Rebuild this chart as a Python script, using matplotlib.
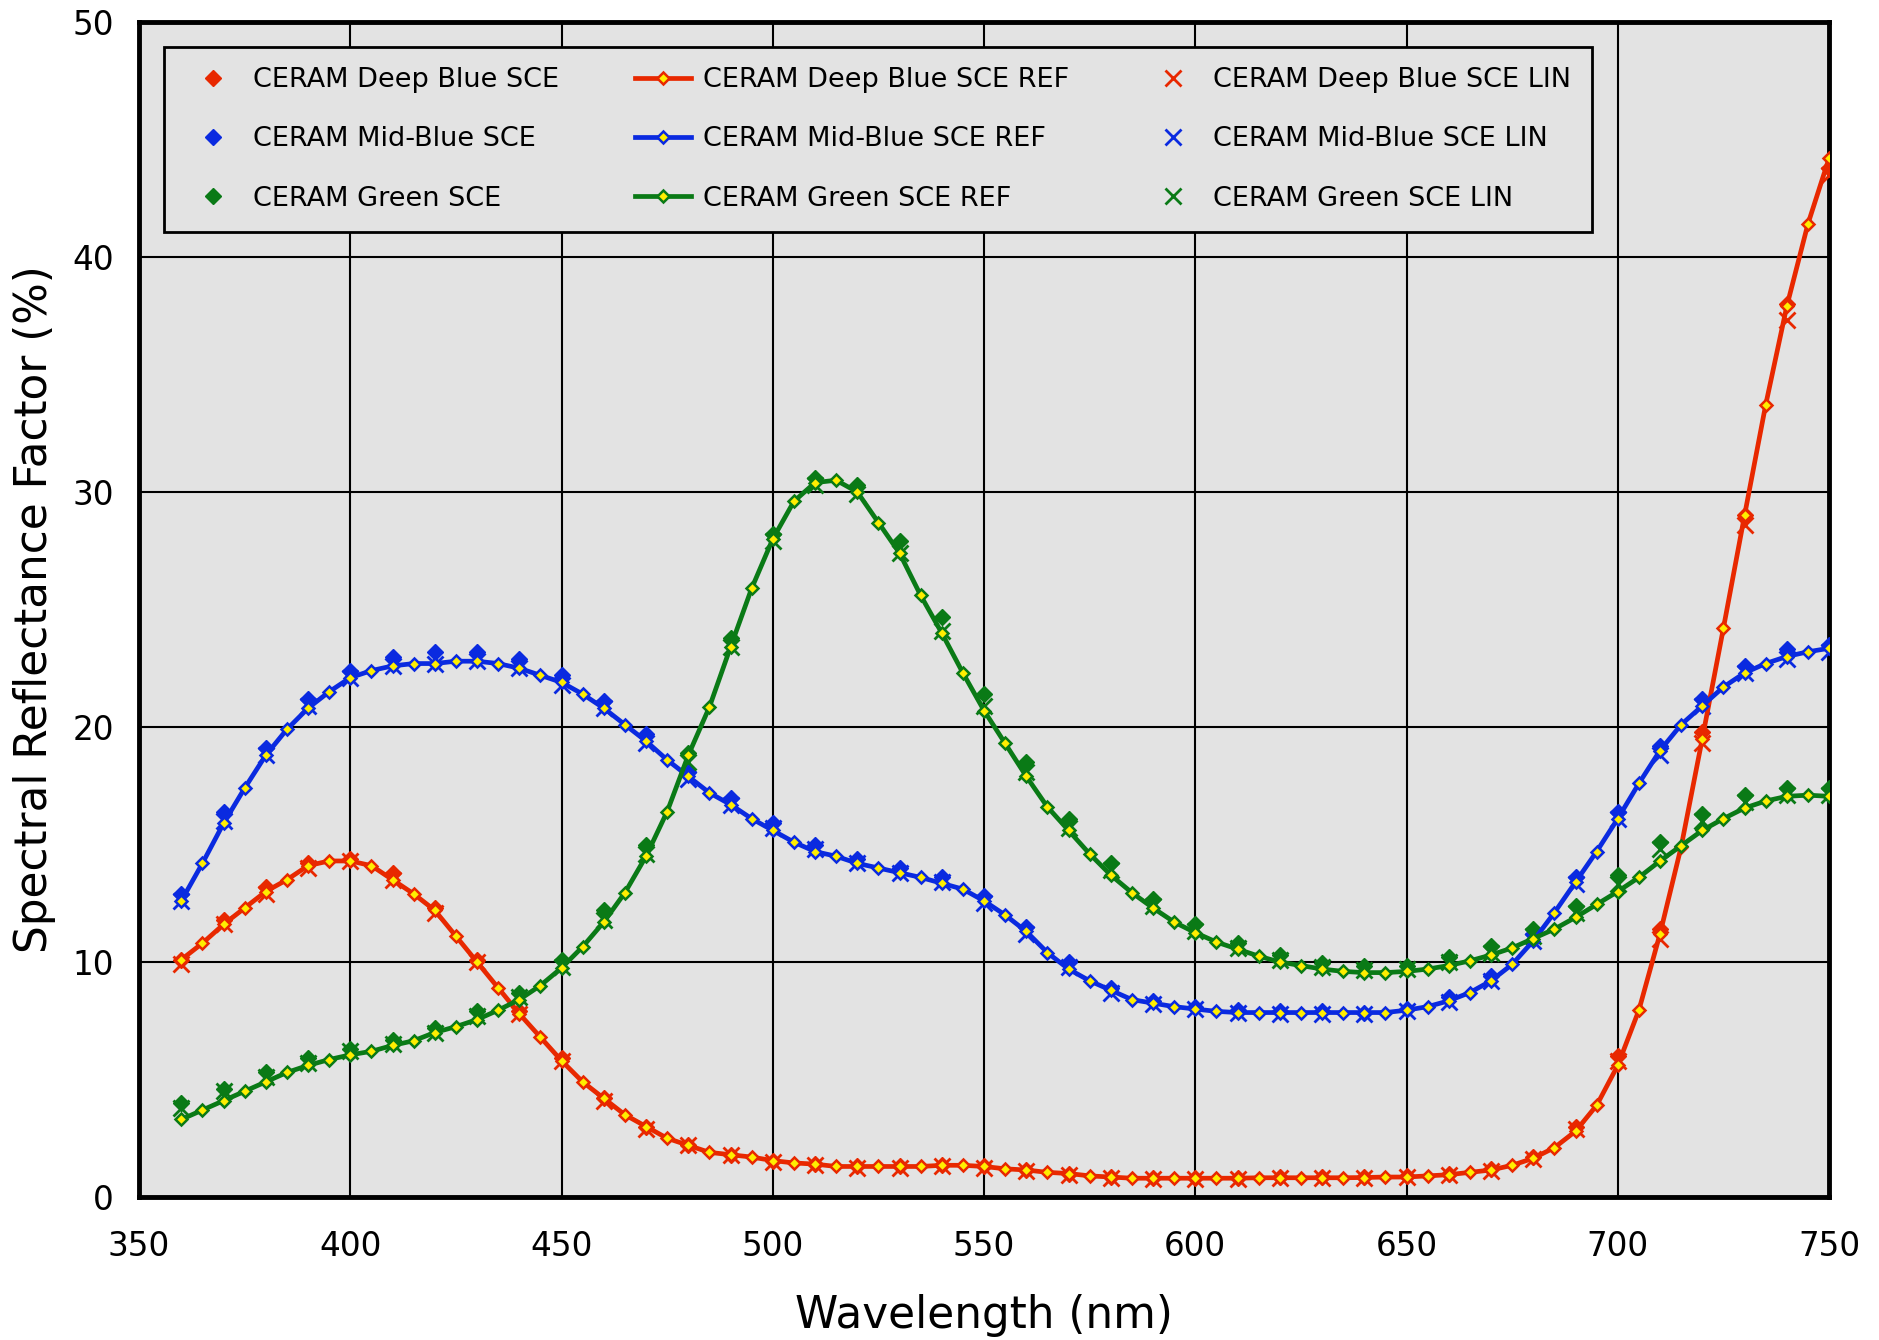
import numpy as np
import matplotlib
matplotlib.use("Agg")
import matplotlib.pyplot as plt

wl_ref = list(range(360, 755, 5))
wl_pts = list(range(360, 760, 10))

deep_ref = [10.1, 10.8, 11.6, 12.3, 13.0, 13.5, 14.1, 14.3, 14.3, 14.1,
            13.5, 12.9, 12.2, 11.1, 10.0, 8.9, 7.8, 6.8, 5.8, 4.9,
            4.2, 3.5, 3.0, 2.5, 2.2, 1.9, 1.8, 1.7, 1.55, 1.45,
            1.4, 1.3, 1.3, 1.3, 1.3, 1.3, 1.35, 1.35, 1.3, 1.2,
            1.15, 1.05, 1.0, 0.9, 0.85, 0.8, 0.8, 0.8, 0.8, 0.8,
            0.8, 0.82, 0.82, 0.82, 0.82, 0.82, 0.83, 0.85, 0.85, 0.9,
            0.95, 1.05, 1.15, 1.35, 1.65, 2.1, 2.8, 3.9, 5.6, 7.95,
            11.2, 14.9, 19.5, 24.2, 29.0, 33.7, 37.9, 41.4, 44.2]
deep_sce = [10.1, 11.8, 13.2, 14.2, 14.4, 13.8, 12.3, 10.1, 7.9, 5.9, 4.2, 3.0, 2.2, 1.8, 1.55, 1.4,
            1.3, 1.3, 1.35, 1.3, 1.15, 1.0, 0.85, 0.8, 0.8, 0.8, 0.85, 0.85, 0.85, 0.9, 1.0, 1.2,
            1.7, 3.0, 6.0, 11.4, 19.8, 29.0, 38.0, 43.8]
deep_lin = [9.9, 11.6, 12.9, 14.0, 14.3, 13.5, 12.1, 10.0, 7.8, 5.8, 4.1, 2.9, 2.2, 1.8, 1.5, 1.35,
            1.25, 1.25, 1.3, 1.25, 1.1, 0.95, 0.8, 0.75, 0.75, 0.75, 0.8, 0.8, 0.8, 0.85, 0.95,
            1.1, 1.6, 2.9, 5.8, 11.0, 19.3, 28.6, 37.3, 43.5]

mid_ref = [12.6, 14.2, 15.9, 17.4, 18.8, 19.9, 20.8, 21.5, 22.1, 22.4,
           22.6, 22.7, 22.7, 22.8, 22.8, 22.7, 22.5, 22.2, 21.9, 21.4,
           20.8, 20.1, 19.4, 18.6, 17.9, 17.2, 16.7, 16.1, 15.6, 15.1,
           14.7, 14.5, 14.2, 14.0, 13.8, 13.6, 13.35, 13.1, 12.6, 12.0,
           11.3, 10.4, 9.7, 9.2, 8.8, 8.4, 8.25, 8.1, 8.0, 7.9,
           7.85, 7.85, 7.85, 7.85, 7.85, 7.85, 7.85, 7.85, 7.95, 8.1,
           8.35, 8.7, 9.2, 9.9, 10.9, 12.1, 13.4, 14.7, 16.1, 17.6,
           19.0, 20.1, 20.9, 21.7, 22.3, 22.7, 23.0, 23.2, 23.35]
mid_sce = [12.9, 16.4, 19.1, 21.2, 22.4, 23.0, 23.2, 23.2, 22.9, 22.2, 21.1, 19.7, 18.1, 17.0, 15.9,
           15.0, 14.4, 14.0, 13.6, 12.8, 11.5, 10.0, 8.9, 8.35, 8.1, 7.95, 7.9, 7.9, 7.85, 8.0, 8.5,
           9.4, 11.2, 13.6, 16.4, 19.2, 21.2, 22.6, 23.3, 23.5]
mid_lin = [12.6, 16.0, 18.8, 20.9, 22.1, 22.6, 22.7, 22.8, 22.5, 21.8, 20.8, 19.3, 17.8, 16.7, 15.7,
           14.8, 14.2, 13.8, 13.4, 12.5, 11.2, 9.8, 8.7, 8.2, 8.0, 7.85, 7.8, 7.8, 7.8, 7.9, 8.3,
           9.2, 10.9, 13.3, 16.1, 18.8, 20.9, 22.3, 22.9, 23.2]

green_ref = [3.3, 3.7, 4.1, 4.5, 4.9, 5.3, 5.6, 5.85, 6.05, 6.2,
             6.45, 6.65, 7.0, 7.25, 7.55, 7.95, 8.4, 9.0, 9.75, 10.65,
             11.7, 12.95, 14.5, 16.4, 18.8, 20.85, 23.4, 25.9, 28.0, 29.6,
             30.4, 30.5, 30.0, 28.7, 27.4, 25.6, 24.0, 22.3, 20.7, 19.3,
             17.9, 16.6, 15.6, 14.6, 13.7, 12.95, 12.3, 11.7, 11.25, 10.85,
             10.55, 10.25, 10.0, 9.85, 9.7, 9.6, 9.55, 9.55, 9.6, 9.7,
             9.85, 10.05, 10.3, 10.6, 11.0, 11.4, 11.9, 12.45, 13.0, 13.6,
             14.3, 14.95, 15.6, 16.1, 16.55, 16.85, 17.05, 17.1, 17.05]
green_sce = [4.0, 4.6, 5.3, 5.9, 6.3, 6.7, 7.2, 7.9, 8.7, 10.1, 12.2, 15.0, 18.9, 23.8, 28.2, 30.6,
             30.3, 27.9, 24.7, 21.4, 18.5, 16.1, 14.2, 12.7, 11.6, 10.8, 10.3, 9.95, 9.85, 9.85,
             10.2, 10.7, 11.4, 12.4, 13.7, 15.1, 16.3, 17.1, 17.4, 17.4]
green_lin = [3.8, 4.5, 5.1, 5.7, 6.2, 6.5, 7.0, 7.7, 8.5, 9.8, 11.8, 14.6, 18.5, 23.4, 27.9, 30.3,
             29.9, 27.4, 24.1, 20.9, 18.1, 15.7, 13.9, 12.4, 11.3, 10.6, 10.1, 9.8, 9.65, 9.7,
             10.0, 10.4, 11.1, 12.1, 13.3, 14.8, 16.0, 16.8, 17.1, 17.1]

names = ["CERAM Deep Blue", "CERAM Mid-Blue", "CERAM Green"]
colors = ["#e82800", "#0a2ae0", "#0a7a16"]

plt.rcParams['font.family'] = ['DejaVu Sans']
fig = plt.figure(figsize=(18.79, 13.40), dpi=100)
ax = fig.add_axes([0.074, 0.1067, 0.8994, 0.8769])
ax.set_facecolor("#e3e3e3")

series = [(deep_ref, deep_sce, deep_lin), (mid_ref, mid_sce, mid_lin), (green_ref, green_sce, green_lin)]
h_sce, h_ref, h_lin = [], [], []
for (ref, sce, lin), name, c in zip(series, names, colors):
    s, = ax.plot(wl_pts, sce, linestyle='none', marker='D', markersize=8, color=c, zorder=3,
                 label=name + " SCE")
    l, = ax.plot(wl_pts, lin, linestyle='none', marker='x', markersize=11, markeredgewidth=2,
                 color=c, zorder=3, label=name + " SCE LIN")
    r, = ax.plot(wl_ref, ref, linestyle='-', linewidth=3.4, color=c, marker='D', markersize=6.5,
                 markerfacecolor='#ffee00', markeredgecolor=c, markeredgewidth=1.8, zorder=4,
                 label=name + " SCE REF")
    h_sce.append(s); h_ref.append(r); h_lin.append(l)

ax.set_xlim(350, 750)
ax.set_ylim(0, 50)
ax.set_xticks(range(350, 751, 50))
ax.set_yticks(range(0, 51, 10))
ax.grid(True, color='black', linewidth=1.5)
ax.set_axisbelow(True)
for sp in ax.spines.values():
    sp.set_linewidth(3.5)
    sp.set_color('black')
ax.tick_params(axis='both', length=0, labelsize=23.5)
ax.tick_params(axis='x', pad=24)
ax.tick_params(axis='y', pad=18)
ax.set_xlabel("Wavelength (nm)", fontsize=31.5, labelpad=22)
ax.set_ylabel("Spectral Reflectance Factor (%)", fontsize=31.5, labelpad=12)

handles = h_sce + h_ref + h_lin
leg = ax.legend(handles=handles, ncol=3, loc='upper left', bbox_to_anchor=(0.0149, 0.9786),
                borderaxespad=0, fontsize=19.5, frameon=True, fancybox=False, facecolor='#e3e3e3',
                edgecolor='black', framealpha=1, borderpad=0.75, labelspacing=1.22,
                columnspacing=2.8, handlelength=2.07, handletextpad=0.45, markerscale=1.0)
leg.get_frame().set_linewidth(2)

fig.savefig("out.png", dpi=100)
